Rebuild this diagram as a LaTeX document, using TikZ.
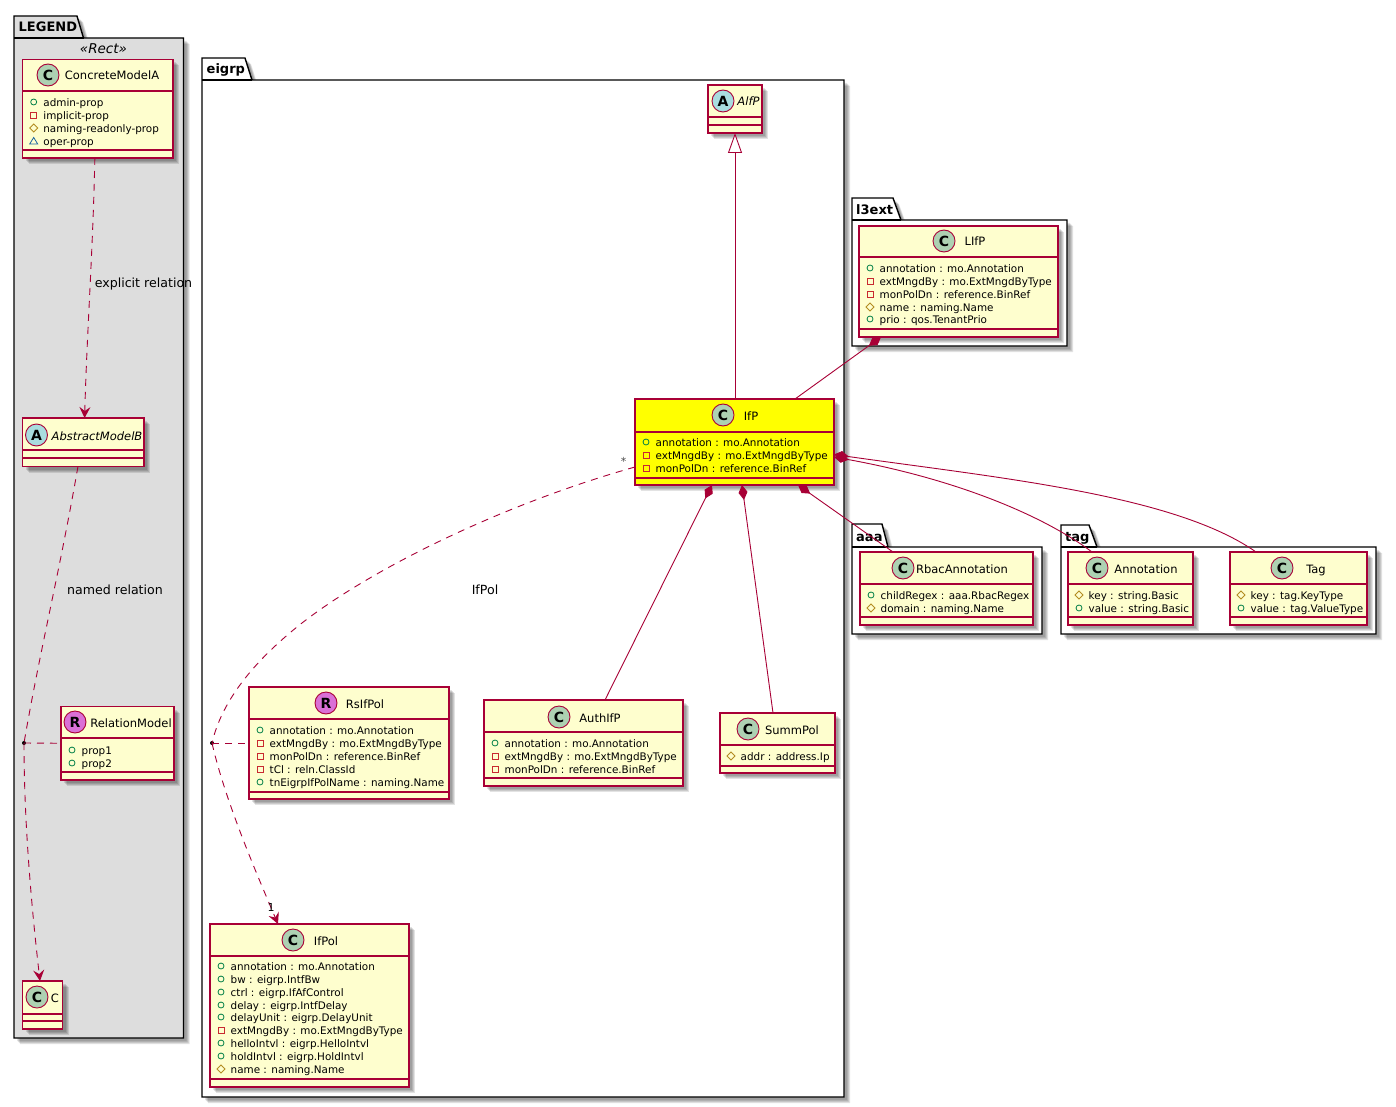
\documentclass[tikz,border=0pt]{standalone}
\usepackage{fontspec}
\setmainfont{DejaVu Sans}
\usetikzlibrary{arrows.meta,shadows}
\definecolor{umlline}{HTML}{A80036}
\definecolor{umlfill}{HTML}{FEFECE}
\definecolor{umlyellow}{HTML}{FFFF00}
\definecolor{legendbg}{HTML}{DDDDDD}
\definecolor{spotC}{HTML}{ADD1B2}
\definecolor{spotA}{HTML}{A9DCDF}
\definecolor{spotR}{HTML}{DA70D6}
\definecolor{vispub}{HTML}{038048}
\definecolor{vispri}{HTML}{C82930}
\definecolor{vispro}{HTML}{B38D22}
\definecolor{vispkg}{HTML}{1963A0}
\tikzset{
  softshadow/.style={
    general shadow={fill=black,draw=none,opacity=.11,shadow xshift=6pt,shadow yshift=-6pt},
    general shadow={fill=black,draw=none,opacity=.11,shadow xshift=5pt,shadow yshift=-5pt},
    general shadow={fill=black,draw=none,opacity=.11,shadow xshift=4pt,shadow yshift=-4pt},
    general shadow={fill=black,draw=none,opacity=.11,shadow xshift=3pt,shadow yshift=-3pt}},
  classbox/.style={rectangle,draw=umlline,line width=1.1pt,inner sep=0pt,outer sep=0pt,softshadow},
  sepline/.style={draw=umlline,line width=1.1pt},
  pkgshape/.style={draw=black,line width=1.4pt,softshadow},
  pkgname/.style={font=\bfseries\fontsize{13}{15}\selectfont,anchor=base west,inner sep=0pt},
  spotcircle/.style={circle,draw=umlline,line width=.9pt,minimum size=22pt,inner sep=0pt,font=\bfseries\fontsize{14}{16}\selectfont},
  titletext/.style={font=\fontsize{11.5}{14}\selectfont,anchor=base,inner sep=0pt},
  membertext/.style={font=\fontsize{10.4}{12}\selectfont,anchor=base west,inner sep=0pt},
  edgetext/.style={font=\fontsize{12.6}{14}\selectfont,anchor=base,inner sep=0pt},
  smalledgetext/.style={font=\fontsize{11}{14}\selectfont,anchor=base,inner sep=0pt},
  stereo/.style={font=\itshape\fontsize{13.5}{15}\selectfont,anchor=base,inner sep=0pt},
  juncdot/.style={circle,fill=black,inner sep=0pt,minimum size=4pt},
  umlrel/.style={draw=umlline,line width=.9pt},
  dashrel/.style={umlrel,dash pattern=on 7pt off 6pt},
  opentip/.style={-{Stealth[length=11pt,width=11pt,inset=4pt,fill=umlline]}},
  comp/.style={{Diamond[length=15pt,width=9pt,fill=umlline]}-},
  inherit/.style={{Triangle[open,length=20pt,width=14pt,fill=white]}-}
}
% id x1 y1 x2 y2 yheader ysep fill
\newcommand{\umlbox}[8]{%
  \pgfmathsetmacro{\bw}{#4-#2}\pgfmathsetmacro{\bh}{#5-#3}%
  \pgfmathsetmacro{\bx}{(#4+#2)/2}\pgfmathsetmacro{\by}{(#5+#3)/2}%
  \node[classbox,fill=#8,minimum width=\bw pt,minimum height=\bh pt] (#1) at (\bx,\by) {};
  \draw[sepline] (#2,#6) -- (#4,#6) (#2,#7) -- (#4,#7);
}
% id cx cy letter colour title tx ty
\newcommand{\umlhead}[8]{%
  \node[spotcircle,fill=#5] (#1spot) at (#2,#3) {#4};
  \node[titletext] (#1title) at (#7,#8) {#6};
}
\newcommand{\vispub}[2]{\draw[vispub,line width=.8pt] (#1,#2) circle (3pt);}
\newcommand{\vispri}[2]{\draw[vispri,line width=.8pt] (#1-3,#2-3) rectangle (#1+3,#2+3);}
\newcommand{\vispro}[2]{\draw[vispro,line width=.8pt] (#1-4,#2) -- (#1,#2-4) -- (#1+4,#2) -- (#1,#2+4) -- cycle;}
\newcommand{\vispkg}[2]{\draw[vispkg,line width=.8pt] (#1-4,#2+3) -- (#1,#2-3.5) -- (#1+4,#2+3) -- cycle;}
% id x1 list
\newcommand{\members}[3]{%
  \foreach \mk/\my/\mt in {#3} {
    \csname vis\mk\endcsname{#2+11}{\my}
    \node[membertext] (#1m\my) at (#2+20.5,\my+4.2) {\mt};
  }
}
% id x1 ytab xtab xslant ybody x2 y2 fill
\newcommand{\umlpkg}[9]{%
  \draw[pkgshape,fill=#9] (#2,#6) -- (#2,#3) -- (#4,#3) -- (#5,#6) -- (#7,#6) -- (#7,#8) -- (#2,#8) -- cycle;
  \draw[black,line width=1.4pt] (#2,#6) -- (#5,#6);
}
\begin{document}
\begin{tikzpicture}[x=1pt,y=-1pt]
\useasboundingbox (0,0) rectangle (1396,1107);
\fill[white] (0,0) rectangle (1396,1107);
% packages
\umlpkg{LEGEND}{14}{16}{77}{83.5}{38}{183.5}{1038}{legendbg}
\node[pkgname] (pLEGEND) at (18.5,32) {LEGEND};
\node[stereo] (legendstereo) at (103.5,54) {«Rect»};
\umlpkg{eigrp}{202}{58}{245}{252}{80}{844}{1097}{white}
\node[pkgname] (peigrp) at (206.5,74) {eigrp};
\umlpkg{l3ext}{852}{198}{893}{901}{220}{1067}{346}{white}
\node[pkgname] (pl3ext) at (856,215) {l3ext};
\umlpkg{aaa}{852}{524}{882}{888}{547}{1042}{634}{white}
\node[pkgname] (paaa) at (856,541) {aaa};
\umlpkg{tag}{1061}{525}{1089}{1097}{547}{1376}{634}{white}
\node[pkgname] (ptag) at (1065,541) {tag};
% classes
\umlbox{ConcreteModelA}{22.7}{59.5}{173}{158}{91}{150}{umlfill}
\umlhead{ConcreteModelA}{48}{75}{C}{spotC}{ConcreteModelA}{112}{80}
\members{ConcreteModelA}{22.7}{pub/102/admin-prop,pri/115/implicit-prop,pro/128/naming-readonly-prop,pkg/141/oper-prop}

\umlbox{AbstractModelB}{22.7}{418}{144}{466.5}{450}{458}{umlfill}
\umlhead{AbstractModelB}{36.5}{435}{A}{spotA}{\itshape AbstractModelB}{97}{440}

\umlbox{RelationModel}{61}{706.5}{174}{780}{738}{772}{umlfill}
\umlhead{RelationModel}{75}{722}{R}{spotR}{RelationModel}{131}{727}
\members{RelationModel}{61}{pub/750/prop1,pub/763/prop2}

\umlbox{Cclass}{22.7}{981}{62.5}{1029}{1014}{1021}{umlfill}
\umlhead{Cclass}{37}{997}{C}{spotC}{C}{55}{1002}

\umlbox{AlfP}{708}{85}{762}{133}{117}{125}{umlfill}
\umlhead{AlfP}{723}{101}{A}{spotA}{\itshape AlfP}{748.5}{106}

\umlbox{IfP}{635}{399}{834}{485}{432}{478}{umlyellow}
\umlhead{IfP}{723}{415}{C}{spotC}{IfP}{751}{420}
\members{IfP}{635}{pub/442/annotation : mo.Annotation,pri/455/extMngdBy : mo.ExtMngdByType,pri/468/monPolDn : reference.BinRef}

\umlbox{RsIfPol}{249}{687}{449}{799}{719}{792}{umlfill}
\umlhead{RsIfPol}{326}{703}{R}{spotR}{RsIfPol}{365}{708}
\members{RsIfPol}{249}{pub/730/annotation : mo.Annotation,pri/743/extMngdBy : mo.ExtMngdByType,pri/756/monPolDn : reference.BinRef,pri/769/tCl : reln.ClassId,pub/782/tnEigrpIfPolName : naming.Name}

\umlbox{AuthIfP}{484}{700}{683}{786}{732}{778}{umlfill}
\umlhead{AuthIfP}{559}{717}{C}{spotC}{AuthIfP}{600}{722}
\members{AuthIfP}{484}{pub/743/annotation : mo.Annotation,pri/756/extMngdBy : mo.ExtMngdByType,pri/769/monPolDn : reference.BinRef}

\umlbox{SummPol}{720}{713}{835}{773}{745}{766}{umlfill}
\umlhead{SummPol}{748}{729}{C}{spotC}{SummPol}{792}{734}
\members{SummPol}{720}{pro/756/addr : address.Ip}

\umlbox{IfPol}{210}{924}{409}{1087}{956}{1079}{umlfill}
\umlhead{IfPol}{293}{940}{C}{spotC}{IfPol}{326}{945}
\members{IfPol}{210}{pub/966/annotation : mo.Annotation,pub/979/bw : eigrp.IntfBw,pub/992/ctrl : eigrp.IfAfControl,pub/1005/delay : eigrp.IntfDelay,pub/1017/delayUnit : eigrp.DelayUnit,pri/1030/extMngdBy : mo.ExtMngdByType,pub/1043/helloIntvl : eigrp.HelloIntvl,pub/1056/holdIntvl : eigrp.HoldIntvl,pro/1069/name : naming.Name}

\umlbox{LIfP}{859}{226}{1058}{337}{257}{329}{umlfill}
\umlhead{LIfP}{944}{241}{C}{spotC}{LIfP}{975}{246}
\members{LIfP}{859}{pub/268/annotation : mo.Annotation,pri/281/extMngdBy : mo.ExtMngdByType,pri/294/monPolDn : reference.BinRef,pro/307/name : naming.Name,pub/319/prio : qos.TenantPrio}

\umlbox{RbacAnnotation}{860}{552}{1033}{625}{584}{617}{umlfill}
\umlhead{RbacAnnotation}{903}{568}{C}{spotC}{RbacAnnotation}{962}{573}
\members{RbacAnnotation}{860}{pub/595/childRegex : aaa.RbacRegex,pro/608/domain : naming.Name}

\umlbox{Annotation}{1068}{552}{1193}{625}{584}{617}{umlfill}
\umlhead{Annotation}{1097}{568}{C}{spotC}{Annotation}{1146}{573}
\members{Annotation}{1068}{pro/595/key : string.Basic,pub/608/value : string.Basic}

\umlbox{Tag}{1230}{552}{1367}{625}{584}{617}{umlfill}
\umlhead{Tag}{1282}{568}{C}{spotC}{Tag}{1316}{573}
\members{Tag}{1230}{pro/595/key : tag.KeyType,pub/608/value : tag.ValueType}
% junctions
\node[juncdot] (j1) at (24,743) {};
\node[juncdot] (j2) at (212,743) {};
% connectors
\draw[dashrel,opentip] ([xshift=-3pt]ConcreteModelA.south) .. controls (93,250) and (87,330) .. ([xshift=.6pt]AbstractModelB.north west -| 84,418);
\draw[dashrel] ([xshift=-5.4pt]AbstractModelB.south) .. controls (60,570) and (40,650) .. (j1.center);
\draw[dashrel,opentip] (j1.center) .. controls (24,830) and (33,920) .. ([xshift=-2.6pt]Cclass.north);
\draw[dashrel] (j1.center) -- (RelationModel.west);
\draw[dashrel] (IfP.west |- 0,467) .. controls (500,505) and (370,570) .. (302,623) .. controls (255,660) and (222,700) .. (j2.center);
\draw[dashrel] (j2.center) -- (RsIfPol.west);
\draw[dashrel,opentip] (j2.center) .. controls (225,800) and (255,870) .. ([xshift=-31.5pt]IfPol.north);
\draw[umlrel,inherit] (AlfP.south) -- ([xshift=.5pt]IfP.north);
\draw[umlrel,comp] ([xshift=-77.5pt]LIfP.south) -- ([xshift=60.5pt]IfP.north);
\draw[umlrel,comp] ([xshift=-22.5pt]IfP.south) -- ([xshift=21.5pt]AuthIfP.north);
\draw[umlrel,comp] ([xshift=7.5pt]IfP.south) -- ([xshift=-4.5pt]SummPol.north);
\draw[umlrel,comp] ([xshift=63.5pt]IfP.south) -- ([xshift=-53.5pt]RbacAnnotation.north);
\draw[umlrel,comp] ([yshift=-15pt]IfP.east) .. controls (950,478) and (1040,513) .. ([xshift=-38.5pt]Annotation.north);
\draw[umlrel,comp] ([yshift=-12.5pt]IfP.east) .. controls (1000,478) and (1175,495) .. ([xshift=-42.5pt]Tag.north);
% labels
\node[edgetext] (l1) at (143.5,287) {explicit relation};
\node[edgetext] (l2) at (115,594) {named relation};
\node[edgetext] (l3) at (485,594) {IfPol};
\node[smalledgetext,text=black!70] (l4) at (623.5,465) {*};
\node[smalledgetext] (l5) at (271,911) {1};
\end{tikzpicture}
\end{document}
